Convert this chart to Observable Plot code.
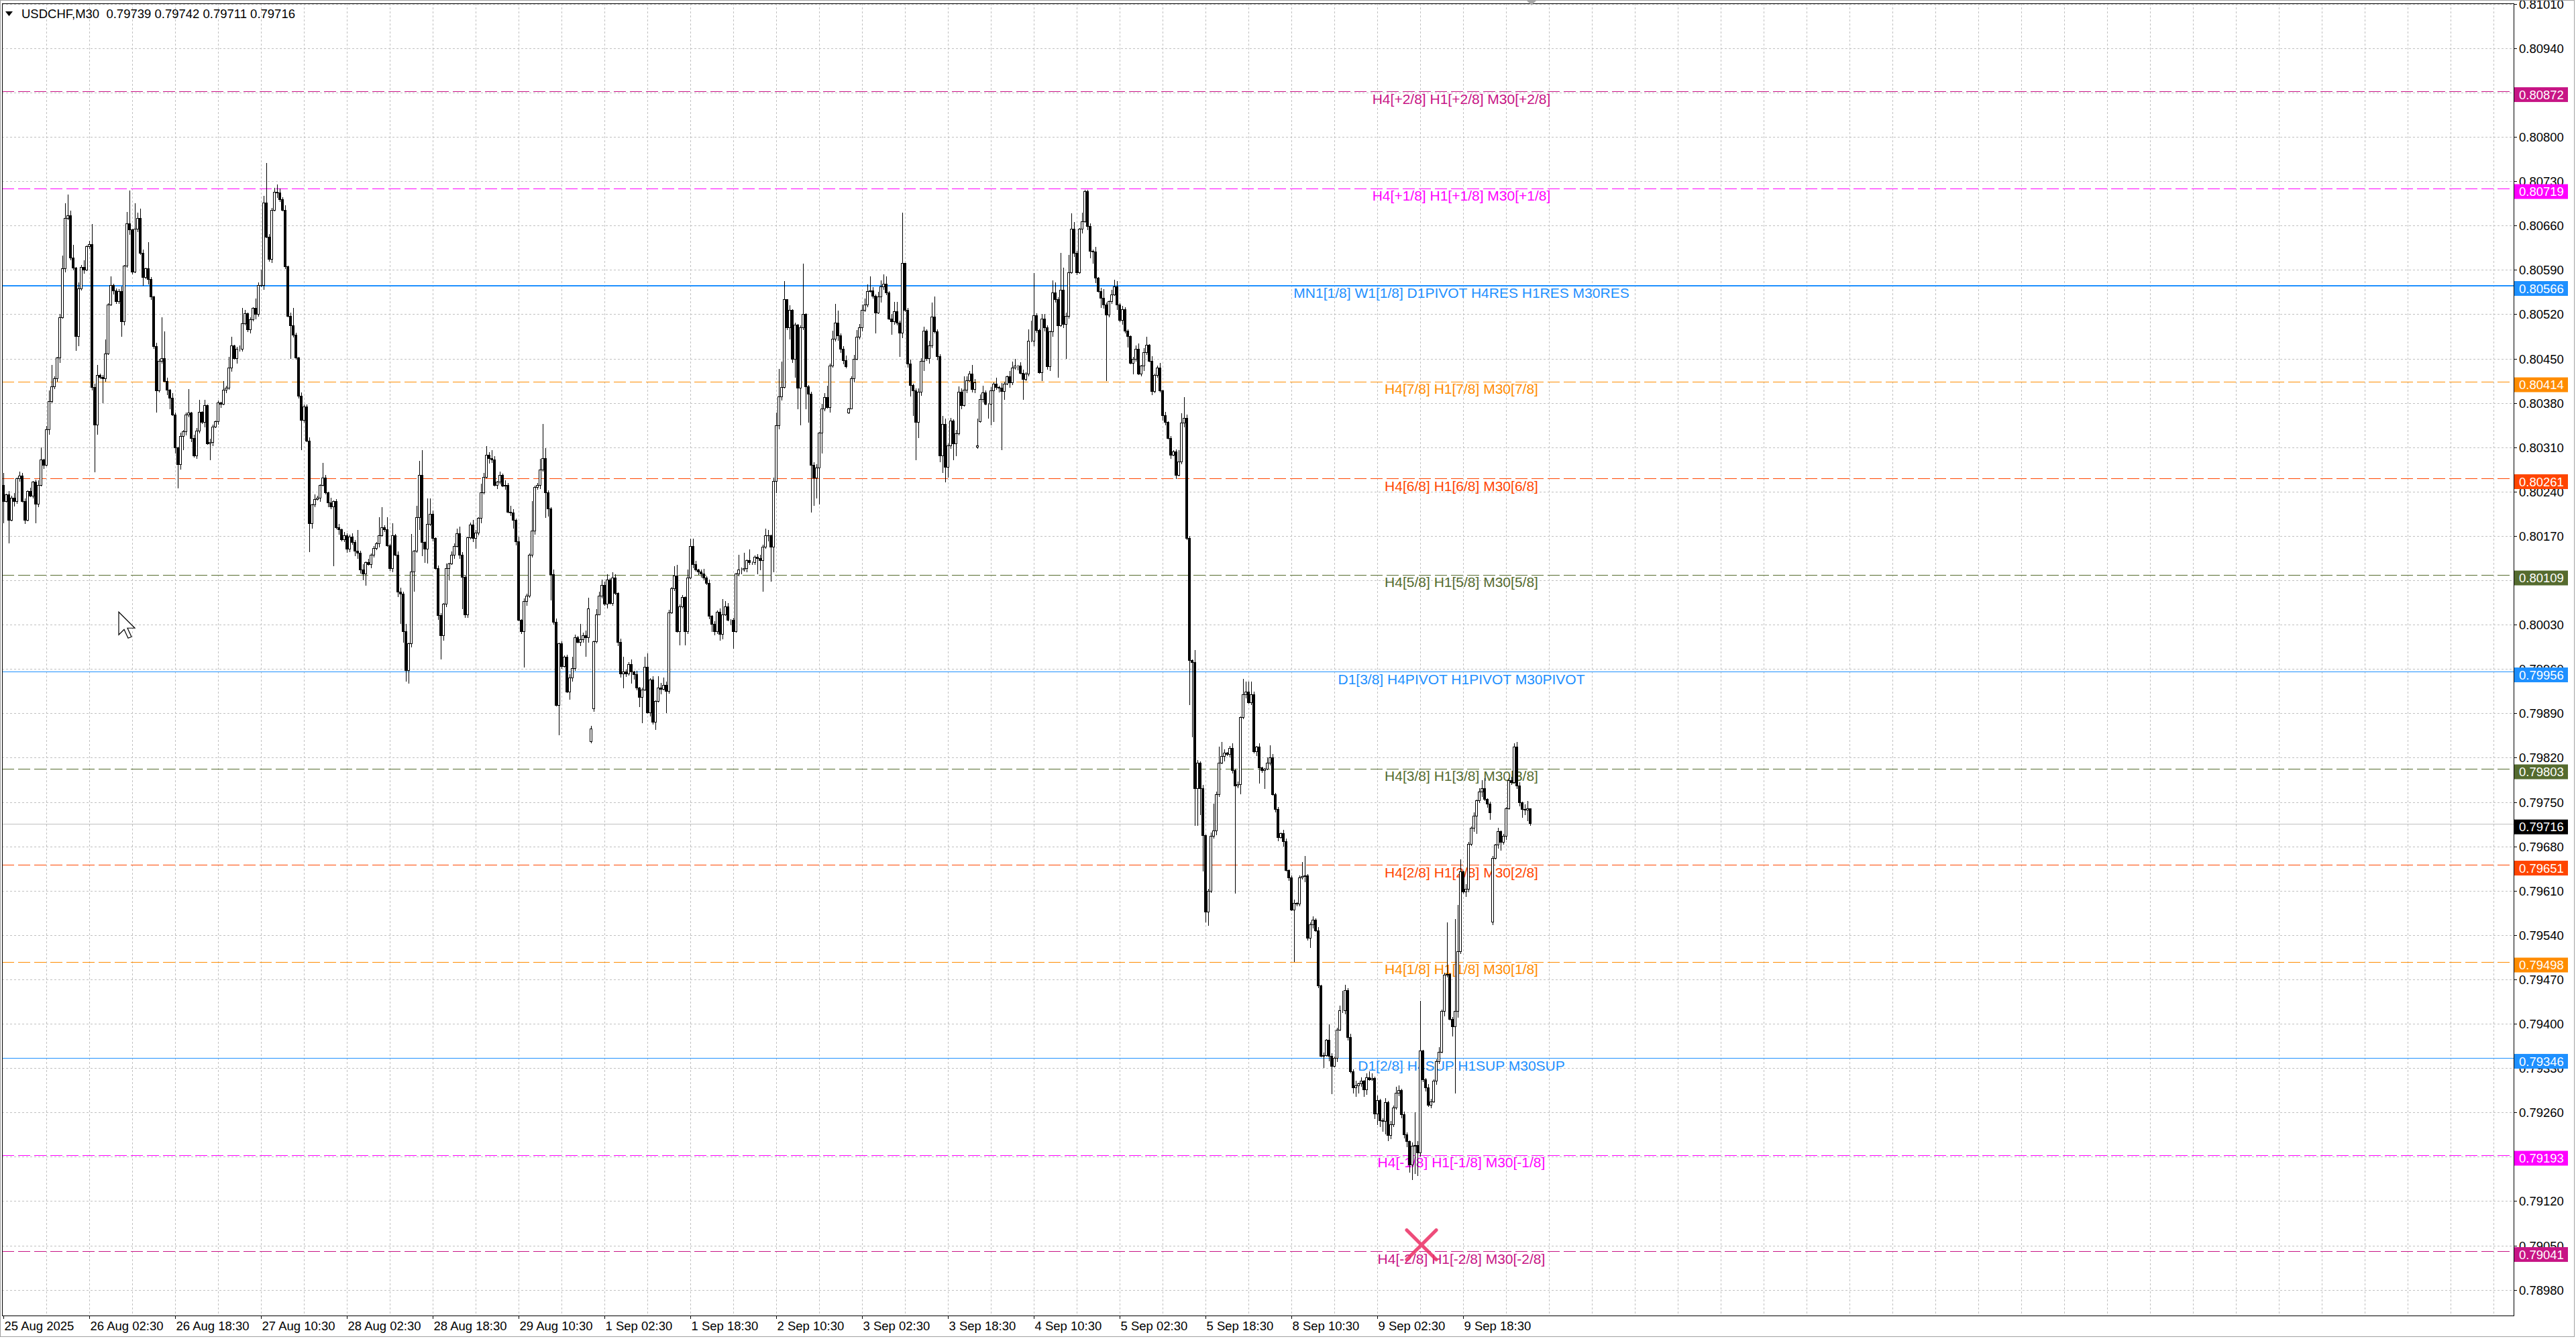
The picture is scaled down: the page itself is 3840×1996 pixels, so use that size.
<!DOCTYPE html>
<html><head><meta charset="utf-8">
<script src="https://cdn.jsdelivr.net/npm/d3@7"></script>
<script src="https://cdn.jsdelivr.net/npm/@observablehq/plot@0.6"></script>
<style>
html,body{margin:0;padding:0;background:#fff;overflow:hidden}
svg{display:block}
</style></head><body>
<div id="chart"></div>
<script>
// ---------- DATA ----------
const symbol = "USDCHF,M30";
const lastOHLC = ["0.79739", "0.79742", "0.79711", "0.79716"];
const xLabels = ["25 Aug 2025","26 Aug 02:30","26 Aug 18:30","27 Aug 10:30","28 Aug 02:30","28 Aug 18:30","29 Aug 10:30","1 Sep 02:30","1 Sep 18:30","2 Sep 10:30","3 Sep 02:30","3 Sep 18:30","4 Sep 10:30","5 Sep 02:30","5 Sep 18:30","8 Sep 10:30","9 Sep 02:30","9 Sep 18:30"];
const barsPerLabel = 32;
const yTicks = [0.78980,0.79050,0.79120,0.79190,0.79260,0.79330,0.79400,0.79470,0.79540,0.79610,0.79680,0.79750,0.79820,0.79890,0.79960,0.80030,0.80100,0.80170,0.80240,0.80310,0.80380,0.80450,0.80520,0.80590,0.80660,0.80730,0.80800,0.80870,0.80940,0.81010];
const hiddenTickLabels = [0.80870, 0.80100, 0.79190];

// closes in units of 0.00001 above 0.79000
const close = [
1225,1235,1195,1230,1225,1260,1265,1225,1195,1240,
1233,1255,1220,1250,1290,1282,1338,1382,1406,1418,
1451,1515,1592,1671,1676,1609,1593,1485,1560,1594,
1590,1627,1630,1405,1345,1424,1420,1418,1458,1535,
1566,1557,1540,1556,1508,1596,1663,1653,1587,1654,
1671,1616,1578,1592,1575,1547,1469,1399,1446,1450,
1414,1400,1388,1361,1309,1283,1327,1335,1361,1364,
1324,1296,1336,1365,1349,1376,1316,1318,1342,1350,
1380,1378,1400,1403,1435,1470,1450,1465,1465,1505,
1521,1496,1511,1529,1520,1566,1565,1696,1642,1607,
1684,1713,1712,1701,1684,1595,1517,1502,1487,1451,
1391,1353,1374,1320,1190,1219,1228,1230,1250,1262,
1238,1222,1216,1224,1183,1180,1164,1170,1149,1168,
1160,1146,1143,1117,1110,1128,1125,1140,1150,1158,
1171,1183,1180,1155,1119,1171,1140,1082,1078,1019,
958,1000,1113,1146,1199,1266,1160,1149,1188,1204,
1166,1119,1044,1013,1062,1119,1126,1140,1154,1174,
1140,1105,1045,1167,1187,1166,1175,1198,1238,1263,
1298,1292,1290,1250,1255,1266,1249,1250,1208,1206,
1195,1161,1037,1019,1067,1075,1140,1178,1247,1250,
1274,1292,1238,1213,1109,1034,903,1000,964,979,
924,946,961,1010,1002,1006,1013,1010,1055,866,
1003,1046,1075,1092,1062,1101,1064,1104,1079,1002,
952,955,952,967,955,951,930,915,927,963,
891,943,876,909,930,928,934,925,1049,1087,
1107,1019,1058,1073,1019,1104,1154,1125,1116,1113,
1110,1104,1095,1043,1031,1019,1050,1015,1046,1058,
1037,1037,1019,1110,1116,1116,1119,1131,1128,1128,
1137,1134,1131,1152,1171,1170,1152,1256,1344,1390,
1405,1543,1499,1526,1449,1503,1403,1499,1520,1406,
1394,1282,1262,1277,1332,1371,1389,1373,1438,1481,
1506,1486,1465,1447,1437,1371,1418,1449,1484,1499,
1526,1535,1556,1557,1549,1522,1547,1563,1568,1554,
1513,1508,1524,1506,1490,1600,1526,1442,1408,1399,
1349,1397,1446,1494,1450,1470,1516,1492,1453,1296,
1346,1278,1312,1352,1316,1331,1397,1376,1400,1415,
1426,1401,1412,1312,1385,1396,1378,1378,1399,1410,
1405,1403,1398,1410,1421,1412,1435,1438,1438,1427,
1417,1426,1478,1478,1518,1495,1428,1513,1499,1437,
1492,1554,1543,1502,1558,1504,1517,1586,1654,1616,
1586,1654,1666,1714,1659,1620,1618,1577,1556,1545,
1535,1519,1540,1551,1563,1535,1510,1527,1494,1485,
1443,1449,1465,1426,1438,1460,1471,1446,1398,1424,
1435,1399,1360,1349,1324,1298,1303,1266,1287,1348,
1356,1166,973,970,771,812,771,697,576,609,
696,704,762,812,822,827,825,835,800,776,
778,883,920,924,907,920,829,837,804,800,
802,812,820,762,738,694,700,688,642,630,
580,590,589,630,632,634,535,556,564,547,
460,349,350,374,349,333,346,390,421,421,
452,378,324,299,302,305,309,296,315,312,
314,258,279,247,246,276,224,241,267,290,
295,257,225,214,177,207,208,196,357,312,
299,271,277,310,340,355,420,477,478,407,
395,420,514,640,608,612,683,709,728,752,
766,771,754,747,733,661,682,703,687,696,
740,784,781,837,775,749,738,737,739,716
];
// opens that differ from the previous close (gaps / isolated bars)
const openOverride = {0:1250, 219:845, 220:897, 315:1364, 363:1310, 364:1350, 555:560};
// highs and lows
const highOverride = {0:1270,6:1272,14:1310,17:1400,18:1440,22:1613,23:1695,24:1709,26:1630,28:1570,30:1605,32:1636,33:1662,34:1410,35:1440,38:1480,40:1580,46:1681,47:1715,49:1695,50:1680,51:1687,54:1634,59:1515,60:1493,69:1402,73:1385,75:1385,82:1415,84:1453,85:1485,89:1530,94:1545,96:1590,97:1707,98:1759,101:1720,102:1725,108:1530,119:1285,132:1180,140:1200,141:1215,143:1200,
145:1190,150:1031,152:1173,154:1218,155:1289,156:1305,158:1229,159:1229,160:1210,169:1182,170:1185,171:1145,178:1253,179:1270,180:1312,182:1305,189:1218,197:1225,200:1292,201:1347,202:1309,212:979,215:1031,218:1073,219:870,222:1082,223:1101,225:1110,227:1113,231:979,239:979,240:985,244:949,246:946,250:1122,251:1124,255:1117,256:1166,257:1166,268:1070,269:1067,274:1140,276:1143,278:1149,284:1182,288:1365,
289:1434,290:1445,291:1572,292:1542,298:1600,306:1395,307:1407,309:1494,310:1536,311:1526,313:1470,314:1455,315:1372,317:1456,318:1495,319:1505,320:1535,321:1545,322:1567,323:1580,327:1573,328:1583,329:1580,332:1540,333:1540,335:1680,336:1600,342:1451,343:1500,346:1539,347:1548,350:1360,351:1355,353:1356,356:1406,357:1403,358:1422,359:1422,360:1430,361:1440,363:1355,365:1407,370:1420,375:1430,376:1445,377:1450,382:1496,383:1510,384:1585,388:1520,391:1573,392:1570,394:1617,395:1594,397:1614,398:1679,399:1666,402:1680,403:1716,404:1716,410:1560,414:1575,415:1572,423:1474,426:1484,438:1305,
439:1364,440:1389,444:990,451:747,453:837,454:845,462:944,463:940,464:940,465:940,472:840,484:655,485:665,494:399,499:452,500:462,
508:322,509:325,510:322,519:300,520:303,526:260,527:215,528:436,538:560,541:565,542:588,543:660,551:785,552:788,563:843,564:845,568:752,569:740};
const lowOverride = {0:1190,2:1158,12:1190,27:1462,28:1470,33:1400,34:1271,35:1330,37:1380,44:1485,52:1565,57:1365,62:1370,64:1300,65:1245,66:1275,67:1305,77:1290,107:1450,111:1305,114:1145,123:1122,132:1134,134:1100,135:1092,
148:1031,149:1002,150:940,151:937,153:1082,155:1180,156:1138,157:1128,158:1127,163:975,166:1100,171:1055,176:1150,182:1285,190:1182,194:962,195:1060,202:1199,203:1201,204:1068,207:855,211:912,217:979,219:843,222:1046,231:930,234:937,237:900,238:874,243:864,247:890,252:997,254:997,264:1019,267:1005,272:992,281:1110,282:1116,283:1082,286:1098,287:1113,288:1238,
293:1480,295:1420,296:1370,297:1345,299:1370,300:1349,301:1207,302:1218,303:1229,304:1220,305:1300,308:1365,312:1459,315:1363,316:1375,325:1490,331:1488,334:1453,338:1390,339:1360,340:1290,341:1325,343:1430,349:1286,350:1270,351:1255,352:1262,354:1290,355:1296,362:1395,363:1308,364:1349,367:1355,368:1345,369:1350,372:1305,373:1385,380:1385,387:1415,390:1430,393:1420,396:1450,405:1608,406:1600,409:1530,411:1415,419:1468,421:1425,
442:903,443:852,444:712,445:712,446:729,447:640,448:560,449:555,458:795,459:605,461:762,468:779,470:771,481:497,487:520,492:330,495:289,497:340,
503:290,504:285,505:290,507:285,511:250,512:240,513:237,514:230,515:225,516:215,517:218,522:219,523:205,524:165,525:153,526:163,527:160,540:380,541:290,542:410,549:700,554:722,558:673,566:725,568:720,569:712};
// estimated small wicks for the remaining bars, one digit per bar (x2 units of 0.00001)
const upWick = ["2132413221","3124213122","1323142132","2141321231","3122413213","1231421321","2314213122","1324121321","2132141232","3121421312","2213241312","1322314213","2141231322","3212413121","1423121332","2131423122","3122141323","1321242131","2213131422","3141221312","1232143121","2312132412","1421321231","3122413122","2131241321","1322142131","2413121322","3121324121","1232141312","2314121231","1223141321","3121242131","2132314122","1421213231","2312141322","3122131421","1231422131","2142131213","3121321422","1322413121","2131221413","3214121321","1232132141","2413121232","1321421312","3122131241","2131242131","1423121321","2312141231","3121321241","1232413121","2141231322","3122132141","1321241231","2213142131","3141221312","1232131421"];
const dnWick = ["3121422131","1232131412","2413122131","3121241321","1322131421","2131422312","1421312132","3122141231","2312131422","1231421312","3142121321","2121342131","1322141232","2413121321","3121231412","1232141321","2131422131","3122131241","1421321312","2312141232","3121421321","1232132141","2142131213","3121242131","1323141221","2131421312","3212132141","1421231322","2312141213","3121321421","1232142131","2413121312","3121231422","1322141321","2131242131","3142121312","1231321421","2312142131","3121421232","1422131213","2131321412","3122141321","1321242131","2142131312","3121321421","1232141231","2413121322","3121231412","1322142131","2131421312","3212132141","1421231321","2312141232","3121321421","1232142131","2413121312","3121231422"];

const levels = [
  {p:0.80872, text:"H4[+2/8] H1[+2/8] M30[+2/8]", color:"#C71585", style:"dash"},
  {p:0.80719, text:"H4[+1/8] H1[+1/8] M30[+1/8]", color:"#FF00FF", style:"dash"},
  {p:0.80566, text:"MN1[1/8] W1[1/8] D1PIVOT H4RES H1RES M30RES", color:"#1E90FF", style:"thick"},
  {p:0.80414, text:"H4[7/8] H1[7/8] M30[7/8]", color:"#FF8C00", style:"dash"},
  {p:0.80261, text:"H4[6/8] H1[6/8] M30[6/8]", color:"#FF4500", style:"dash"},
  {p:0.80109, text:"H4[5/8] H1[5/8] M30[5/8]", color:"#556B2F", style:"dash"},
  {p:0.79956, text:"D1[3/8] H4PIVOT H1PIVOT M30PIVOT", color:"#1E90FF", style:"solid"},
  {p:0.79803, text:"H4[3/8] H1[3/8] M30[3/8]", color:"#556B2F", style:"dash"},
  {p:0.79651, text:"H4[2/8] H1[2/8] M30[2/8]", color:"#FF4500", style:"dash"},
  {p:0.79498, text:"H4[1/8] H1[1/8] M30[1/8]", color:"#FF8C00", style:"dash"},
  {p:0.79346, text:"D1[2/8] H4SUP H1SUP M30SUP", color:"#1E90FF", style:"solid"},
  {p:0.79193, text:"H4[-1/8] H1[-1/8] M30[-1/8]", color:"#FF00FF", style:"dash"},
  {p:0.79041, text:"H4[-2/8] H1[-2/8] M30[-2/8]", color:"#C71585", style:"dash"}
];
const currentPrice = 0.79716;
const crossMark = {i: 528.5, p: 0.79051};
const cursorAt = {i: 43, p: 0.80050};

// ---------- BUILD ----------
const P = v => 0.79 + v / 1e5;
const up = upWick.join(""), dn = dnWick.join("");
const candles = close.map((c, i) => {
  const o = openOverride[i] ?? (i > 0 ? close[i - 1] : c);
  const top = Math.max(o, c), bot = Math.min(o, c);
  const h = Math.max(highOverride[i] ?? top + 2 * (+up[i] || 0), top);
  const l = Math.min(lowOverride[i] ?? bot - 2 * (+dn[i] || 0), bot);
  return {i, o: P(o), c: P(c), h: P(h), l: P(l), bull: c >= o};
});

const W = 3840, H = 1996;
const mL = 3, mR = 93, mT = 5, mB = 35;
const font = "'Liberation Sans', Arial, sans-serif";
const labelBar = 543.25;
const vGrid = d3.range(16, 936, 16);

const plot = Plot.plot({
  width: W, height: H,
  marginLeft: mL, marginRight: mR, marginTop: mT, marginBottom: mB,
  x: {type: "linear", domain: [-0.5, 935.5], axis: null},
  y: {type: "linear", domain: [0.789394, 0.810108], axis: null},
  style: {background: "#fff", fontFamily: font},
  marks: [
    Plot.ruleY(yTicks, {stroke: "#c0c0c0", strokeDasharray: "3,3", shapeRendering: "crispEdges"}),
    Plot.ruleX(vGrid, {stroke: "#c0c0c0", strokeDasharray: "3,3", shapeRendering: "crispEdges"}),
    Plot.ruleY(levels.filter(d => d.style === "dash"), {y: "p", stroke: "color", strokeDasharray: "18,6", shapeRendering: "crispEdges"}),
    Plot.ruleY(levels.filter(d => d.style === "solid"), {y: "p", stroke: "color", strokeWidth: 1, shapeRendering: "crispEdges"}),
    Plot.ruleY(levels.filter(d => d.style === "thick"), {y: "p", stroke: "color", strokeWidth: 2, shapeRendering: "crispEdges"}),
    Plot.ruleY([currentPrice], {stroke: "#c0c0c0", shapeRendering: "crispEdges"}),
    Plot.text(levels, {x: () => labelBar, y: "p", text: "text", fill: "color", fontSize: 21, fontFamily: font, lineAnchor: "bottom", dy: 18}),
    Plot.ruleX(candles, {x: "i", y1: "l", y2: "h", stroke: "#000", strokeWidth: 1, shapeRendering: "crispEdges"}),
    Plot.rect(candles, {x1: d => d.i - 0.375, x2: d => d.i + 0.375, y1: "o", y2: "c", fill: d => d.bull ? "#ffffff" : "#000000", stroke: "#000", strokeWidth: 1, shapeRendering: "crispEdges"}),
    Plot.frame({stroke: "#000", shapeRendering: "crispEdges"})
  ]
});
document.getElementById("chart").appendChild(plot);

const xs = plot.scale("x"), ys = plot.scale("y");
const X = v => xs.apply(v), Y = v => ys.apply(v);
const svg = d3.select(plot);
const frameR = W - mR, frameB = H - mB;
const g = svg.append("g").attr("font-family", font).attr("font-size", 18.5)
  .attr("fill", "#000").attr("text-anchor", "start");

// right price axis
yTicks.forEach(v => {
  const y = Math.round(Y(v)) + 0.5;
  g.append("line").attr("x1", frameR).attr("x2", frameR + 5).attr("y1", y).attr("y2", y).attr("stroke", "#000");
  if (!hiddenTickLabels.includes(v))
    g.append("text").attr("x", frameR + 8).attr("y", y).attr("dy", "0.36em").text(v.toFixed(5));
});
// level / current price boxes (drawn slightly below their line, as in the terminal)
[...levels, {p: currentPrice, color: "#000000"}].forEach(d => {
  const y = Y(d.p) + 5;
  g.append("rect").attr("x", frameR + 1).attr("y", y - 11).attr("width", 80).attr("height", 22).attr("fill", d.color);
  g.append("text").attr("x", frameR + 8).attr("y", y).attr("dy", "0.36em").attr("fill", "#fff").text(d.p.toFixed(5));
});
// bottom time axis
xLabels.forEach((s, k) => {
  const x = Math.round(X(k * barsPerLabel)) + 0.5;
  g.append("line").attr("x1", x).attr("x2", x).attr("y1", frameB).attr("y2", frameB + 5).attr("stroke", "#000");
  g.append("text").attr("x", x + 1).attr("y", frameB + 22).text(s);
});
// header
g.append("path").attr("d", "M8,17 L19,17 L13.5,24 Z").attr("fill", "#000");
g.append("text").attr("x", 32).attr("y", 27).style("white-space", "pre").text(symbol + "  " + lastOHLC.join(" "));
// chart-shift marker
{
  const x = X(close.length - 0.5);
  g.append("path").attr("d", `M${x - 7},${mT - 4} L${x + 7},${mT - 4} L${x},${mT + 3} Z`).attr("fill", "#a8a8a8");
}
// cross marker
{
  const cx = X(crossMark.i), cy = Y(crossMark.p), r = 22;
  const m = svg.append("g").attr("stroke", "#EC3468").attr("stroke-width", 5).attr("stroke-linecap", "round").attr("opacity", 0.88);
  m.append("line").attr("x1", cx - r).attr("y1", cy - r).attr("x2", cx + r).attr("y2", cy + r);
  m.append("line").attr("x1", cx + r).attr("y1", cy - r).attr("x2", cx - r).attr("y2", cy + r);
}
// mouse cursor
{
  const cx = X(cursorAt.i), cy = Y(cursorAt.p);
  svg.append("path")
    .attr("d", "M0,0 L0,17 L4,13 L7,19.5 L9.5,18.5 L6.5,12 L12,12 Z")
    .attr("transform", `translate(${cx},${cy}) scale(2)`)
    .attr("fill", "#fff").attr("stroke", "#000").attr("stroke-width", 0.6);
}
// window border
svg.append("rect").attr("x", 0.5).attr("y", 0.5).attr("width", W - 3).attr("height", H - 4)
  .attr("fill", "none").attr("stroke", "#a0a0a0");
</script>
</body></html>
